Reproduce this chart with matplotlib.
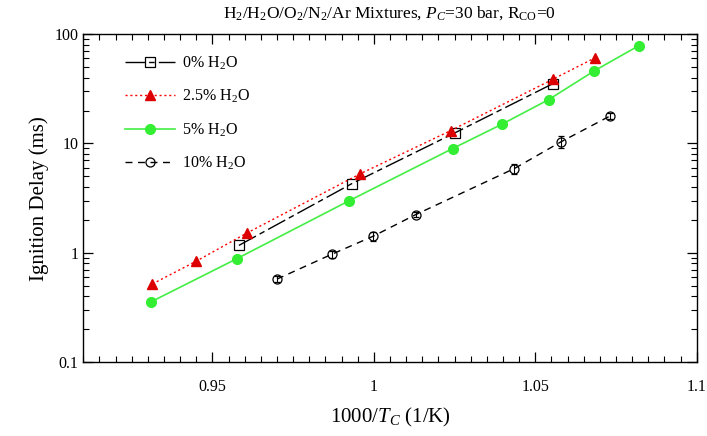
import matplotlib
matplotlib.use("Agg")
import matplotlib.pyplot as plt
from matplotlib.lines import Line2D
from matplotlib.ticker import FixedLocator, LogLocator, NullFormatter, FuncFormatter

plt.rcParams['font.family'] = ['Liberation Serif', 'DejaVu Serif']
plt.rcParams['mathtext.fontset'] = 'custom'
plt.rcParams['mathtext.rm'] = 'Liberation Serif'
plt.rcParams['mathtext.it'] = 'Liberation Serif:italic'

# data
x_0 = [0.9582, 0.9931, 1.0250, 1.0554]
y_0 = [1.17, 4.28, 12.45, 35.1]

x_25 = [0.9314, 0.9450, 0.9607, 0.9956, 1.0238, 1.0554, 1.0684]
y_25 = [0.52, 0.84, 1.52, 5.25, 13.1, 38.5, 60.4]

x_5 = [0.9310, 0.9575, 0.9923, 1.0244, 1.0397, 1.0542, 1.0682, 1.0820]
y_5 = [0.357, 0.883, 2.99, 8.98, 15.0, 25.2, 45.9, 78.0]

x_10 = [0.9700, 0.9869, 0.9998, 1.0130, 1.0435, 1.0580, 1.0732]
y_10 = [0.576, 0.969, 1.42, 2.24, 5.89, 10.36, 17.84]
err_10 = [0.06, 0.08, 0.10, 0.06, 0.10, 0.12, 0.06]  # relative error

labels = ['0% H$_2$O', '2.5% H$_2$O', '5% H$_2$O', '10% H$_2$O']

fig = plt.figure(figsize=(7.07, 4.36), dpi=100)
ax = fig.add_axes([0.1178, 0.169, 0.8676, 0.753])

h0, = ax.plot(x_0, y_0, color='black', lw=1.0, dashes=(14, 3, 4, 3),
              marker='s', ms=7.5, mfc='none', mec='black', mew=0.9)
h25, = ax.plot(x_25, y_25, color='red', lw=1.0, ls=(0, (1.5, 2)),
               marker='^', ms=7.5, mfc='#dd0000', mec='#dd0000')
h5, = ax.plot(x_5, y_5, color='#44ee44', lw=1.2, ls='-',
              marker='o', ms=7, mfc='#33ee33', mec='#33ee33')
yerr = [[v * e for v, e in zip(y_10, err_10)], [v * e for v, e in zip(y_10, err_10)]]
ax.errorbar(x_10, y_10, yerr=yerr, color='black', lw=1.0, ls=(0, (5, 4)),
            marker='o', ms=6.5, mfc='none', mec='black', mew=0.9,
            capsize=2.5, elinewidth=0.8)
h10 = Line2D([], [], color='black', lw=1.0, ls=(0, (5, 4)),
             marker='o', ms=6.5, mfc='none', mec='black', mew=0.9)

ax.set_yscale('log')
ax.set_xlim(0.91, 1.1)
ax.set_ylim(0.1, 100)

ax.xaxis.set_major_locator(FixedLocator([0.95, 1.0, 1.05, 1.1]))
ax.xaxis.set_major_formatter(FuncFormatter(lambda v, p: ('%g' % round(v, 3))))
ax.xaxis.set_minor_locator(FixedLocator([0.91 + 0.005 * i for i in range(39)]))
ax.yaxis.set_major_locator(FixedLocator([0.1, 1, 10, 100]))
ax.yaxis.set_major_formatter(FuncFormatter(lambda v, p: '%g' % v))
ax.yaxis.set_minor_locator(LogLocator(base=10, subs=range(2, 10)))
ax.yaxis.set_minor_formatter(NullFormatter())

ax.tick_params(which='both', direction='in', top=True, right=True, labelsize=11.5)
ax.tick_params(which='major', length=7, width=0.9)
ax.tick_params(which='minor', length=4, width=0.8)
ax.tick_params(axis='x', which='major', pad=12)
for s in ax.spines.values():
    s.set_linewidth(1.0)

ax.set_xlabel('1000/$T_C$ (1/K)', fontsize=15, labelpad=8)
ax.set_ylabel('Ignition Delay (ms)', fontsize=15, labelpad=4)
ax.set_title('H$_2$/H$_2$O/O$_2$/N$_2$/Ar Mixtures, $P_C$=30 bar, R$_{\\rm CO}$=0',
             fontsize=12.5, pad=12)

ax.legend([h0, h25, h5, h10], labels, loc='upper left',
          bbox_to_anchor=(0.058, 0.957), frameon=False, borderaxespad=0,
          fontsize=11.5, numpoints=1, handlelength=3.1, labelspacing=1.0,
          handletextpad=0.45)

fig.savefig('out.png', dpi=100)
